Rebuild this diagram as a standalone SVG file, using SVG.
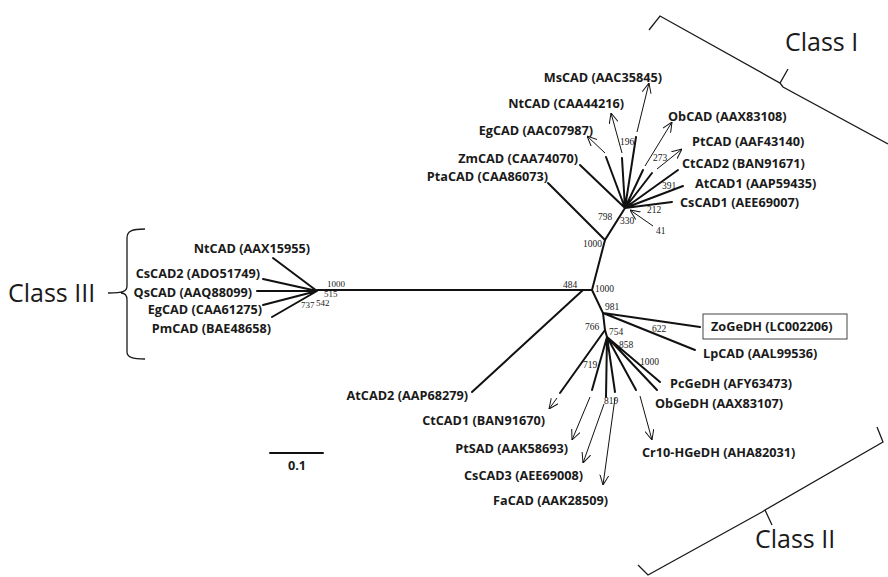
<svg xmlns="http://www.w3.org/2000/svg" width="888" height="577" viewBox="0 0 888 577">
<style>
.lb{font-family:"Open Sans","Liberation Sans",sans-serif;font-weight:bold;font-size:12.7px;fill:#1a1a1a}
.e{text-anchor:end}
.n{font-family:"Liberation Serif",serif;font-size:9.5px;fill:#1a1a1a}
.s{font-size:9px}
.cl{font-family:"Open Sans","Liberation Sans",sans-serif;font-size:25px;fill:#1a1a1a}
.br{fill:none;stroke:#1a1a1a;stroke-width:1.3}
.t{fill:none;stroke:#111;stroke-width:2;stroke-linecap:round}
.a{fill:none;stroke:#111;stroke-width:1;marker-end:url(#ah)}
</style>
<defs>
<marker id="ah" viewBox="0 0 10 10" refX="10" refY="5" markerWidth="10" markerHeight="10" orient="auto" markerUnits="userSpaceOnUse">
<path d="M0,0.5 L10,5 L0,9.5" fill="none" stroke="#111" stroke-width="1"/>
</marker>
</defs>
<rect width="888" height="577" fill="#fff"/>
<g id="connectors">
<path class="t" d="M317,290 L592,290"/>
<path class="t" d="M583,290 L472,392"/>
<path class="t" d="M592,290 L605,240 L625,208"/>
<path class="t" d="M592,290 L603,313 L605,330 L607,337"/>
<path class="t" d="M317,291 L273,258 M317,291 L263,279 M317,291 L257,291 M317,291 L263,305 M317,291 L272,317"/>
<path class="t" d="M605,240 L548,183"/>
<path class="t" d="M625,208 L580,165 M625,208 L606,157 M625,208 L622,158 M625,208 L636,137 M625,208 L643,170 M625,208 L652,173 M625,208 L678,170 M625,208 L683,186 M625,208 L672,202"/>
<path class="a" d="M605,153 L587,136"/>
<path class="a" d="M622,153 L611,113"/>
<path class="a" d="M637,132 L649,83"/>
<path class="a" d="M645,166 L672,122"/>
<path class="a" d="M657,169 L682,149"/>
<path class="a" d="M653,226 L630,210"/>
<path class="t" d="M603,313 L700,327 M603,313 L695,350"/>
<path class="t" d="M605,330 L560,393"/>
<path class="t" d="M607,337 L592,390 M607,337 L606,397 M607,337 L615,392 M607,337 L636,390 M607,337 L660,382 M607,337 L657,390"/>
<path class="a" d="M557,398 L549,409"/>
<path class="a" d="M590,397 L572,440"/>
<path class="a" d="M604,404 L583,463"/>
<path class="a" d="M615,398 L603,485"/>
<path class="a" d="M640,396 L652,440"/>
<path class="t" d="M270,453 L323,453"/>
</g>
<g id="brackets">
<path class="br" d="M649,30 L660,16 L780,83 L788,69 M780,83 L783,87 L888,144"/>
<path class="br" d="M877,427 L883,442 L765,510 L772,525 M765,510 L762,512 L648,575 L638,565"/>
<path class="br" d="M145,229 C132,229 127,231 127,238 L127,286 C127,291 124,293 108,293 M121,293 C124,293 127,295 127,300 L127,352 C127,357 132,359 145,359"/>
</g>
<g id="class-labels">
<text class="cl" x="785" y="51">Class I</text>
<text class="cl" x="755" y="548">Class II</text>
<text class="cl" x="8" y="302">Class III</text>
</g>
<g id="node-labels">
<g id="n-MsCAD"><text class="lb e" x="662" y="82">MsCAD (AAC35845)</text></g>
<g id="n-NtCAD1"><text class="lb e" x="624" y="108">NtCAD (CAA44216)</text></g>
<g id="n-EgCAD1"><text class="lb e" x="593" y="135">EgCAD (AAC07987)</text></g>
<g id="n-ZmCAD"><text class="lb e" x="578" y="163">ZmCAD (CAA74070)</text></g>
<g id="n-PtaCAD"><text class="lb e" x="548" y="181">PtaCAD (CAA86073)</text></g>
<g id="n-ObCAD"><text class="lb" x="668" y="121">ObCAD (AAX83108)</text></g>
<g id="n-PtCAD"><text class="lb" x="692" y="146">PtCAD (AAF43140)</text></g>
<g id="n-CtCAD2"><text class="lb" x="682" y="168">CtCAD2 (BAN91671)</text></g>
<g id="n-AtCAD1"><text class="lb" x="695" y="188">AtCAD1 (AAP59435)</text></g>
<g id="n-CsCAD1"><text class="lb" x="680" y="207">CsCAD1 (AEE69007)</text></g>
<g id="n-NtCAD2"><text class="lb e" x="310" y="253">NtCAD (AAX15955)</text></g>
<g id="n-CsCAD2"><text class="lb e" x="260" y="278">CsCAD2 (ADO51749)</text></g>
<g id="n-QsCAD"><text class="lb e" x="252" y="297">QsCAD (AAQ88099)</text></g>
<g id="n-EgCAD2"><text class="lb e" x="262" y="314">EgCAD (CAA61275)</text></g>
<g id="n-PmCAD"><text class="lb e" x="271" y="333">PmCAD (BAE48658)</text></g>
<g id="n-AtCAD2"><text class="lb e" x="468" y="400">AtCAD2 (AAP68279)</text></g>
<g id="n-CtCAD1"><text class="lb e" x="545" y="425">CtCAD1 (BAN91670)</text></g>
<g id="n-PtSAD"><text class="lb e" x="568" y="453">PtSAD (AAK58693)</text></g>
<g id="n-CsCAD3"><text class="lb e" x="583" y="480">CsCAD3 (AEE69008)</text></g>
<g id="n-FaCAD"><text class="lb e" x="608" y="505">FaCAD (AAK28509)</text></g>
<g id="n-ZoGeDH"><rect x="703" y="314" width="144" height="25" fill="none" stroke="#444" stroke-width="1"/><text class="lb" x="711" y="331">ZoGeDH (LC002206)</text></g>
<g id="n-LpCAD"><text class="lb" x="703" y="358">LpCAD (AAL99536)</text></g>
<g id="n-PcGeDH"><text class="lb" x="670" y="388">PcGeDH (AFY63473)</text></g>
<g id="n-ObGeDH"><text class="lb" x="655" y="408">ObGeDH (AAX83107)</text></g>
<g id="n-Cr10"><text class="lb" x="642" y="457">Cr10-HGeDH (AHA82031)</text></g>
<g id="scale"><text class="lb" x="297" y="470" text-anchor="middle">0.1</text></g>
</g>
<g id="bootstrap">
<text class="n" x="620" y="145">196</text>
<text class="n" x="653" y="161">273</text>
<text class="n" x="662" y="189">391</text>
<text class="n" x="647" y="213">212</text>
<text class="n" x="598" y="220">798</text>
<text class="n" x="620" y="224">330</text>
<text class="n" x="656" y="234">41</text>
<text class="n" x="583" y="247">1000</text>
<text class="n" x="563" y="288">484</text>
<text class="n" x="595" y="292">1000</text>
<text class="n s" x="327" y="287">1000</text>
<text class="n s" x="324" y="297">515</text>
<text class="n s" x="301" y="308">737</text>
<text class="n s" x="316" y="306">542</text>
<text class="n" x="605" y="310">981</text>
<text class="n" x="652" y="332">622</text>
<text class="n" x="585" y="330">766</text>
<text class="n" x="609" y="335">754</text>
<text class="n" x="619" y="348">858</text>
<text class="n" x="640" y="365">1000</text>
<text class="n" x="583" y="368">719</text>
<text class="n" x="604" y="404">819</text>
</g>
</svg>
